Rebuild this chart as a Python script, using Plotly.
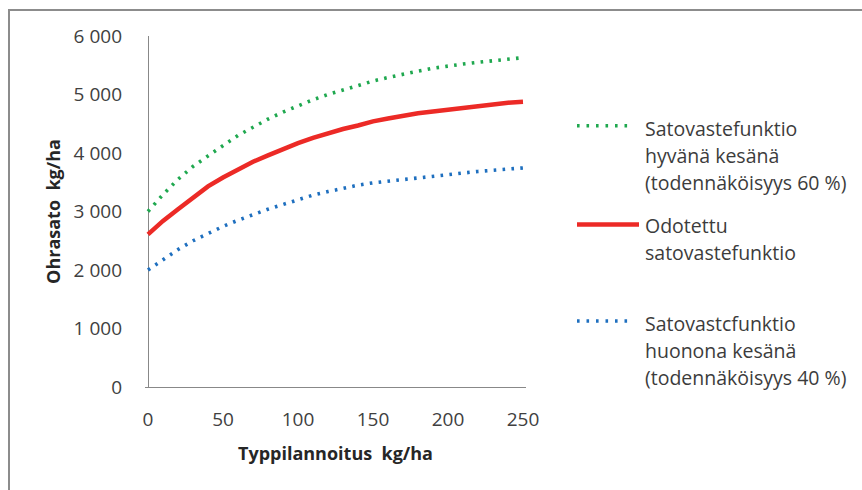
import plotly.graph_objects as go

# Nitrogen fertilisation rate (kg/ha)
nitrogen = [0, 10, 20, 30, 40, 50, 60, 70, 80, 90, 100, 110, 120,
            130, 140, 150, 160, 170, 180, 190, 200, 210, 220, 230, 240, 250]

# Barley yield (kg/ha) in a good summer
yield_good = [3000, 3290, 3550, 3770, 3950, 4130, 4300, 4440, 4580, 4700, 4810, 4910, 5000,
              5080, 5160, 5230, 5290, 5350, 5400, 5450, 5490, 5520, 5550, 5580, 5610, 5630]

# Expected barley yield (kg/ha)
yield_expected = [2610, 2840, 3040, 3240, 3430, 3580, 3720, 3850, 3960, 4070, 4170, 4260, 4340,
                  4410, 4470, 4540, 4590, 4640, 4680, 4710, 4740, 4780, 4800, 4830, 4860, 4875]

# Barley yield (kg/ha) in a poor summer
yield_poor = [2000, 2180, 2350, 2500, 2630, 2745, 2850, 2950, 3040, 3120, 3200, 3280, 3340,
              3400, 3450, 3490, 3520, 3550, 3575, 3600, 3630, 3660, 3685, 3705, 3725, 3745]

x_tick_vals = [0, 50, 100, 150, 200, 250]
y_tick_vals = [0, 1000, 2000, 3000, 4000, 5000, 6000]
y_tick_text = ["0", "1 000", "2 000", "3 000", "4 000", "5 000", "6 000"]

series_names = [
    "Satovastefunktio<br>hyvänä kesänä<br>(todennäköisyys 60 %)",
    "Odotettu<br>satovastefunktio",
    "Satovastcfunktio<br>huonona kesänä<br>(todennäköisyys 40 %)",
]
series_values = [yield_good, yield_expected, yield_poor]
series_colors = ["#1FA84F", "#EC2A26", "#1E6FBF"]
series_widths = [3.6, 4.5, 3.6]
series_dash = ["2.6px,6.3px", "solid", "2.6px,6.3px"]

x_title = "Typpilannoitus  kg/ha"
y_title = "Ohrasato  kg/ha"

FONT = "Open Sans, Lato, DejaVu Sans, sans-serif"
W, H = 862, 490
L, R, T, B = 145, 336, 36, 103
PW, PH = W - L - R, H - T - B


def paper_x(px):
    return (px - L) / PW


def paper_y(py):
    return (H - B - py) / PH


fig = go.Figure()

for name, vals, color, width, dash in zip(series_names, series_values,
                                          series_colors, series_widths, series_dash):
    fig.add_trace(go.Scatter(
        x=nitrogen, y=vals, mode="lines", name=name.replace("<br>", " "),
        line=dict(color=color, width=width, dash=dash),
        showlegend=False, hoverinfo="x+y",
    ))

# Hand-placed legend: sample line plus one text line per row
legend_sample_y = [125.7, 224.5, 321]
legend_sample_x1 = [634, 639, 634]
legend_line_y = [[128, 155, 182], [225.5, 252.5], [323, 350, 377]]
legend_dash = ["2.6px,6.9px", "solid", "2.6px,6.9px"]

for i, name in enumerate(series_names):
    fig.add_shape(
        type="line", xref="paper", yref="paper",
        x0=paper_x(577), x1=paper_x(legend_sample_x1[i]),
        y0=paper_y(legend_sample_y[i]), y1=paper_y(legend_sample_y[i]),
        line=dict(color=series_colors[i], width=series_widths[i], dash=legend_dash[i]),
    )
    for text, ly in zip(name.split("<br>"), legend_line_y[i]):
        fig.add_annotation(
            text=text, xref="paper", yref="paper",
            x=paper_x(643), y=paper_y(ly), xanchor="left", yanchor="middle",
            showarrow=False, font=dict(family=FONT, size=19.5, color="#3C3C3C"),
        )

# Chart frame (left and top edges)
fig.add_shape(type="line", xref="paper", yref="paper",
              x0=paper_x(9), x1=paper_x(9), y0=paper_y(10), y1=paper_y(H + 5),
              line=dict(color="#8C8C8C", width=2))
fig.add_shape(type="line", xref="paper", yref="paper",
              x0=paper_x(8), x1=paper_x(W + 5), y0=paper_y(10), y1=paper_y(10),
              line=dict(color="#8C8C8C", width=2))

fig.update_layout(
    width=W, height=H,
    margin=dict(l=L, r=R, t=T, b=B, autoexpand=False),
    paper_bgcolor="white", plot_bgcolor="white",
    font=dict(family=FONT, size=19, color="#404040"),
    showlegend=False,
    xaxis=dict(
        range=[-2, 252], tickvals=x_tick_vals, showgrid=False,
        showline=False, zeroline=True, zerolinecolor="#888888", zerolinewidth=1,
        ticks="", ticklabelstandoff=19,
        tickfont=dict(family=FONT, size=19, color="#404040"),
        title=dict(text=x_title, standoff=16,
                   font=dict(family=FONT, size=18, color="#262626", weight="bold")),
        automargin=False,
    ),
    yaxis=dict(
        range=[0, 6000], tickvals=y_tick_vals, ticktext=y_tick_text, showgrid=False,
        showline=False, zeroline=True, zerolinecolor="#888888", zerolinewidth=1,
        ticks="", ticklabelstandoff=22,
        tickfont=dict(family=FONT, size=19, color="#404040"),
        title=dict(text=y_title, standoff=8,
                   font=dict(family=FONT, size=18, color="#262626", weight="bold")),
        automargin=False,
    ),
)

fig.write_html("out.html")
